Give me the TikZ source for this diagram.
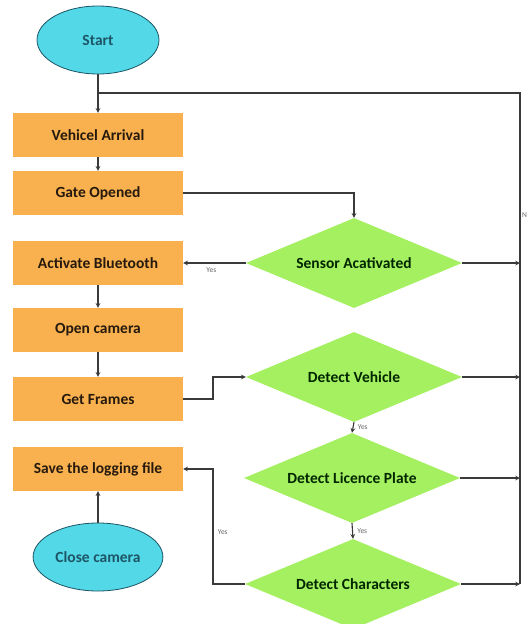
\documentclass[tikz,border=0pt]{standalone}
\usepackage{fontspec}
\setsansfont{Carlito}
\usepackage{tikz}
\usetikzlibrary{shapes.geometric}

\definecolor{boxorange}{HTML}{F8B14E}
\definecolor{diagreen}{HTML}{A4F060}
\definecolor{termcyan}{HTML}{52D8E6}
\definecolor{termedge}{HTML}{1E5566}
\definecolor{flowline}{HTML}{3A3A3A}

\begin{document}
\begin{tikzpicture}[x=1pt,y=-1pt,>=stealth,
  stepbox/.style={rectangle,fill=boxorange,minimum width=170pt,minimum height=44pt,
    font=\sffamily\bfseries\fontsize{15.5}{17}\selectfont,text=black!80!brown},
  decide/.style={diamond,fill=diagreen,shape aspect=2.4,minimum width=216pt,minimum height=90pt,inner sep=0pt,
    font=\sffamily\bfseries\fontsize{15.5}{17}\selectfont,text=black!85!green},
  terminal/.style={ellipse,fill=termcyan,draw=termedge,line width=0.8pt,minimum width=122pt,
    minimum height=68pt,font=\sffamily\bfseries\fontsize{15.5}{17}\selectfont,text=termedge},
  flow/.style={draw=flowline,line width=1.1pt},
  yeslbl/.style={font=\sffamily\fontsize{7.5}{8}\selectfont,text=black!60}]
\useasboundingbox (0,0) rectangle (528,624);
\fill[white] (0,0) rectangle (528,624);

% left column
\node[terminal] (start) at (98,40) {Start};
\node[stepbox] (arrival) at (98,135) {Vehicel Arrival};
\node[stepbox] (gate) at (98,193) {Gate Opened};
\node[stepbox] (bluetooth) at (98,263) {Activate Bluetooth};
\node[stepbox] (camera) at (98,330) {Open camera};
\node[stepbox] (frames) at (98,399) {Get Frames};
\node[stepbox] (logfile) at (98,469) {Save the logging file};
\node[terminal] (close) at (98,557) {Close camera};

% decisions
\node[decide] (sensor) at (354,263) {Sensor Acativated};
\node[decide] (vehicle) at (354,377) {Detect Vehicle};
\node[decide] (plate) at (352,478) {Detect Licence Plate};
\node[decide] (chars) at (353,584) {Detect Characters};

\coordinate (loop) at (520,93);
\coordinate (join) at (98,93);

\draw[flow,->] (start) -- (arrival);
\draw[flow,->] (arrival) -- (gate);
\draw[flow,->] (gate.east) -| (sensor.north);
\draw[flow,->] (sensor.west) -- node[yeslbl,below=1pt,pos=0.55] {Yes} (bluetooth.east);
\draw[flow,->] (bluetooth) -- (camera);
\draw[flow,->] (camera) -- (frames);
\draw[flow,->] (frames.east) -- (213,399) -- (213,377) -- (vehicle.west);
\draw[flow,->] (vehicle.south) -- node[yeslbl,right=1pt] {Yes} (plate.north);
\draw[flow,->] (plate.south) -- node[yeslbl,right=1pt] {Yes} (chars.north);
\draw[flow,->] (chars.west) -- (213,584) -- node[yeslbl,right=1pt,pos=0.45] {Yes} (213,469) -- (logfile.east);
\draw[flow,->] (close) -- (logfile);

% back to the start
\draw[flow] (join) -- (loop) -- (520,584);
\node[yeslbl,anchor=west,inner sep=0pt] (nolbl) at (522,215) {N};
\draw[flow,->] (sensor.east) -- (520,263);
\draw[flow,->] (vehicle.east) -- (520,377);
\draw[flow,->] (plate.east) -- (520,478);
\draw[flow,->] (chars.east) -- (520,584);
\end{tikzpicture}
\end{document}
